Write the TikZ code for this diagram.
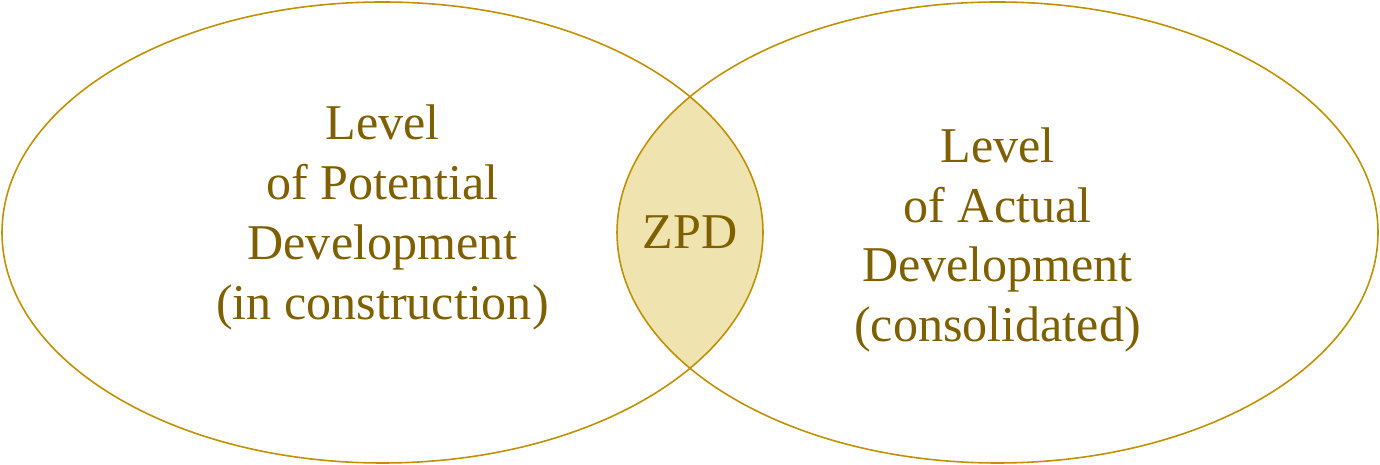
\documentclass[tikz,border=0pt]{standalone}
\usepackage{fontspec}
\setmainfont{Liberation Serif}
\usetikzlibrary{shapes.geometric}
\definecolor{zpdline}{RGB}{191,144,0}
\definecolor{zpdtext}{RGB}{127,96,0}
\definecolor{zpdfill}{RGB}{239,227,175}
\begin{document}
\begin{tikzpicture}[
  level/.style={draw=zpdline, line width=0.9pt, ellipse, inner sep=0pt, minimum width=15.22cm, minimum height=9.22cm},
  label/.style={text=zpdtext, align=center, font=\fontsize{28.5}{34}\selectfont}
]
\useasboundingbox (0,0) rectangle (27.6,9.3);
\begin{scope}
  \clip (7.65,4.65) ellipse [x radius=7.61cm, y radius=4.61cm];
  \fill[zpdfill] (19.95,4.65) ellipse [x radius=7.61cm, y radius=4.61cm];
\end{scope}
\node[level] (P) at (7.65,4.65) {};
\node[level] (A) at (19.95,4.65) {};
\node[label] (Ptext) at (7.65,4.95) {Level\\of Potential\\Development\\(in construction)};
\node[label] (Atext) at (19.95,4.5) {Level\\of Actual\\Development\\(consolidated)};
\node[label] (Z) at (13.8,4.65) {ZPD};
\end{tikzpicture}
\end{document}
